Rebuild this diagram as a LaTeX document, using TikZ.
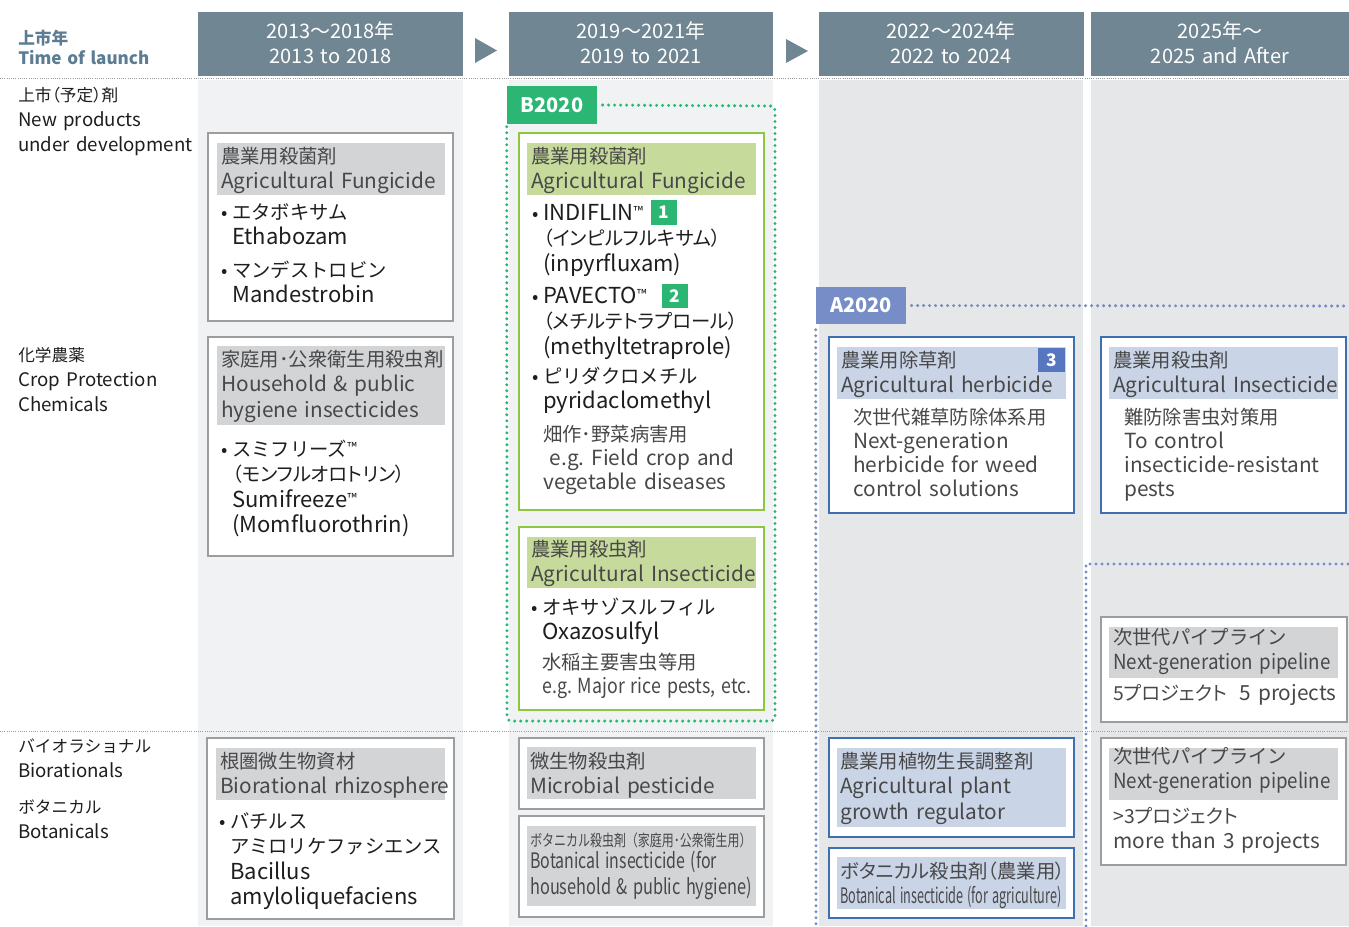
\documentclass[tikz,border=0pt]{standalone}
\usepackage{fontspec}
\usepackage{graphicx}
\setmainfont{Noto Sans CJK JP}
\newfontfamily\jpp{Noto Sans CJK JP}[RawFeature=+palt]
\definecolor{slate}{HTML}{708692}
\definecolor{slatetxt}{HTML}{5B7C93}
\definecolor{bgA}{HTML}{F1F2F4}
\definecolor{bgB}{HTML}{E6E7E9}
\definecolor{gbadge}{HTML}{2BB673}
\definecolor{gline}{HTML}{8DC63F}
\definecolor{gband}{HTML}{C6DA9C}
\definecolor{bbadge}{HTML}{768DC8}
\definecolor{bnum}{HTML}{5677BF}
\definecolor{bline}{HTML}{3E6FB0}
\definecolor{bband}{HTML}{C9D4E7}
\definecolor{nband}{HTML}{D3D4D6}
\definecolor{nline}{HTML}{9C9D9F}
\definecolor{ttl}{HTML}{484848}
\definecolor{itm}{HTML}{1E1E1E}
\newcommand\jt{\fontsize{14.5pt}{19.2pt}\selectfont}
\newcommand\et{\fontsize{15.6pt}{19.2pt}\selectfont}
\newcommand\eb{\fontsize{16.5pt}{19.2pt}\selectfont}
\newcommand\jd{\fontsize{14.5pt}{18pt}\selectfont}
\newcommand\ed{\fontsize{15.6pt}{18pt}\selectfont}
\newcommand\jl{\fontsize{12.5pt}{19pt}\selectfont}
\newcommand\el{\fontsize{14pt}{19pt}\selectfont}
\newcommand\bul{\llap{\fontsize{14pt}{19.2pt}\selectfont•\hspace{3pt}}}
\newcommand\tmk{\raisebox{2.5pt}{\fontsize{10pt}{10pt}\selectfont ™}}
\newcommand\sq[2]{\resizebox{#1}{\height}{#2}}
\begin{document}
\begin{tikzpicture}[x=0.75pt,y=-0.75pt,
  txt/.style={inner sep=0pt,anchor=base west,text width=210pt,align=left,font=\et},
  hd/.style={inner sep=0pt,anchor=base,text width=190pt,align=center,text=white,
    font=\fontsize{15pt}{18.75pt}\selectfont},
  card/.style={draw=nline,line width=0.9pt,fill=white},
  gcard/.style={card,draw=gline},
  bcard/.style={card,draw=bline},
  tag/.style={fill=#1,text=white,font=\bfseries\fontsize{15pt}{15pt}\selectfont,
    minimum width=67.5pt,minimum height=28pt,inner sep=0pt},
  num/.style={fill=#1,text=white,font=\bfseries\fontsize{13pt}{13pt}\selectfont,
    minimum width=20pt,minimum height=18.5pt,inner sep=0pt},
  sep/.style={nline,line width=0.75pt,dash pattern=on 0.75pt off 0.9pt},
  dots/.style={#1,line width=2.5pt,line cap=round,dash pattern=on 0pt off 4.5pt}]
\useasboundingbox (0,0) rectangle (1349,926);
\fill[bgA] (198,80) rectangle (463,926);
\fill[bgA] (509,80) rectangle (773,926);
\fill[bgB] (819,80) rectangle (1083,926);
\fill[bgB] (1091,80) rectangle (1349,926);
\fill[slate] (198,12) rectangle (463,76);
\fill[slate] (509,12) rectangle (773,76);
\fill[slate] (819,12) rectangle (1084,76);
\fill[slate] (1091,12) rectangle (1349,76);
\fill[slate] (475,38) -- (497,50.5) -- (475,63) -- cycle;
\fill[slate] (786,39) -- (808,51) -- (786,63) -- cycle;
\node[hd] (h1) at (330.5,38) {2013〜2018年\\2013 to 2018};
\node[hd] (h2) at (641,38) {2019〜2021年\\2019 to 2021};
\node[hd] (h3) at (951,38) {2022〜2024年\\2022 to 2024};
\node[hd] (h4) at (1220,38) {2025年〜\\2025 and After};
\draw[sep] (0,78) -- (1349,78);
\draw[sep] (0,731) -- (1349,731);
\node[txt,text=slatetxt,font=\bfseries\jl] (ltime) at (18,44) {上市年};
\node[txt,text=slatetxt,font=\bfseries\fontsize{12.8pt}{16pt}\selectfont] (ltime2) at (18,64) {Time of launch};
\node[txt,text=itm,font=\el] (lnew) at (18,101) {\jl{\jpp 上市（予定）剤}\\\el New products\\under development};
\node[txt,text=itm,font=\el] (lcp) at (18,361) {\jl 化学農薬\\\el Crop Protection\\Chemicals};
\node[txt,text=itm,font=\el] (lbio) at (18,752) {\jl バイオラショナル\\\el Biorationals};
\node[txt,text=itm,font=\el] (lbot) at (18,813) {\jl ボタニカル\\\el Botanicals};
\draw[card] (208,133) rectangle (453,321);
\fill[nband] (217,143) rectangle (445,195);
\node[txt,text=ttl] (fa) at (221,163) {\jt 農業用殺菌剤\\\et Agricultural Fungicide};
\node[txt,text=itm] (fa1) at (232,219) {\jt\bul エタボキサム\\\eb Ethabozam};
\node[txt,text=itm] (fa2) at (232,277) {\jt\bul マンデストロビン\\\eb Mandestrobin};
\draw[card] (208,337) rectangle (453,556);
\fill[nband] (217,346) rectangle (445,425);
\node[txt,text=ttl] (hh) at (221,366) {\jt 家庭用･公衆衛生用殺虫剤\\\et Household \& public\\hygiene insecticides};
\node[txt,text=itm] (hh1) at (232,456) {\jt\bul スミフリーズ\tmk\\{\jpp （モンフルオロトリン）}\\\eb Sumifreeze\tmk\\(Momfluorothrin)};
\draw[card] (207,738) rectangle (454,919);
\fill[nband] (216,748) rectangle (445,800);
\node[txt,text=ttl] (br) at (220,768) {\jt 根圏微生物資材\\\et Biorational rhizosphere};
\node[txt,text=itm] (br1) at (230,828) {\jt\bul バチルス\\アミロリケファシエンス\\\eb Bacillus\\amyloliquefaciens};
\node[tag=gbadge] (b2020) at (552,105) {B2020};
\draw[gcard] (519,133) rectangle (764,510);
\fill[gband] (527,143) rectangle (756,195);
\node[txt,text=ttl] (gf) at (531,163) {\jt 農業用殺菌剤\\\et Agricultural Fungicide};
\node[txt,text=itm] (gf1) at (543,220) {\eb\bul INDIFLIN\tmk\\\jt{\jpp （インピルフルキサム）}\\\eb (inpyrfluxam)};
\node[num=gbadge] (n1) at (664,212.5) {1};
\node[txt,text=itm] (gf2) at (543,303) {\eb\bul PAVECTO\tmk\\\jt{\jpp （メチルテトラプロール）}\\\eb (methyltetraprole)};
\node[num=gbadge] (n2) at (675,296) {2};
\node[txt,text=itm] (gf3) at (543,383) {\jt\bul ピリダクロメチル\\\eb pyridaclomethyl};
\node[txt,text=ttl,font=\ed] (gf4) at (543,441) {\jd 畑作･野菜病害用\\\ed\hspace*{5pt}e.g.\ Field crop and\\vegetable diseases};
\draw[gcard] (519,527) rectangle (764,710);
\fill[gband] (527,537) rectangle (756,588);
\node[txt,text=ttl] (gi) at (531,556) {\jt 農業用殺虫剤\\\et Agricultural Insecticide};
\node[txt,text=itm] (gi1) at (542,614) {\jt\bul オキサゾスルフィル\\\eb Oxazosulfyl};
\node[txt,text=ttl,font=\ed] (gi2) at (542,669) {\jd 水稲主要害虫等用\\\ed\sq{157pt}{e.g.\ Major rice pests, etc.}};
\coordinate (gNE) at (775,106);
\coordinate (gSE) at (775,721);
\coordinate (gSW) at (507,721);
\draw[dots=gbadge,rounded corners=3pt] ([xshift=4pt]b2020.east) -- (gNE) -- (gSE) -- (gSW) -- (b2020.south west);
\draw[card] (519,738) rectangle (764,809);
\fill[nband] (527,747) rectangle (756,799);
\node[txt,text=ttl] (mp) at (530,768) {\jt 微生物殺虫剤\\\et Microbial pesticide};
\draw[card] (519,816) rectangle (764,917);
\fill[nband] (527,826) rectangle (756,906);
\node[txt,text=ttl,font=\fontsize{12pt}{14pt}\selectfont] (bh) at (530,846) {\sq{166pt}{ボタニカル殺虫剤（家庭用･公衆衛生用）}};
\node[txt,text=ttl,font=\fontsize{16pt}{20pt}\selectfont] (bh2) at (530,868) {\sq{140pt}{Botanical insecticide (for}\\\sq{166pt}{household \& public hygiene)}};
\node[tag=bbadge] (a2020) at (861,305.5) {A2020};
\coordinate (aE) at (1349,306);
\coordinate (aS) at (816,926);
\draw[dots=bbadge] ([xshift=4pt]a2020.east) -- (aE);
\draw[dots=bbadge] ([yshift=-4pt]a2020.south west) -- (aS);
\draw[bcard] (829,337) rectangle (1074,513);
\fill[bband] (837,347) rectangle (1066,399);
\node[num=bnum] (n3) at (1051.5,360) {3};
\node[txt,text=ttl] (hb) at (841,367) {\jt 農業用除草剤\\\et Agricultural herbicide};
\node[txt,text=ttl,font=\ed] (hb1) at (853,424) {\jd 次世代雑草防除体系用\\\ed Next-generation\\herbicide for weed\\control solutions};
\draw[bcard] (829,738) rectangle (1074,837);
\fill[bband] (837,748) rectangle (1066,827);
\node[txt,text=ttl] (pg) at (840,768) {\jt 農業用植物生長調整剤\\\et Agricultural plant\\growth regulator};
\draw[bcard] (829,848) rectangle (1074,918);
\fill[bband] (837,857) rectangle (1066,909);
\node[txt,text=ttl] (ba) at (840,878) {\jt\jpp ボタニカル殺虫剤（農業用）};
\node[txt,text=ttl,font=\fontsize{16pt}{20pt}\selectfont] (ba2) at (840,903) {\sq{166pt}{Botanical insecticide (for agriculture)}};
\draw[bcard] (1101,337) rectangle (1346,513);
\fill[bband] (1109,347) rectangle (1338,399);
\node[txt,text=ttl] (ki) at (1113,367) {\jt 農業用殺虫剤\\\et Agricultural Insecticide};
\node[txt,text=ttl,font=\ed] (ki1) at (1124,424) {\jd 難防除害虫対策用\\\ed To control\\insecticide-resistant\\pests};
\coordinate (pS) at (1086,926);
\coordinate (pC) at (1086,564);
\coordinate (pE) at (1349,564);
\draw[dots=bbadge] (pS) -- (pC) -- (pE);
\draw[card] (1101,617) rectangle (1347,722);
\fill[nband] (1109,627) rectangle (1338,678);
\node[txt,text=ttl] (np) at (1113,644) {\jt 次世代パイプライン\\\et\sq{163pt}{Next-generation pipeline}};
\node[txt,text=ttl] (np1) at (1113,700) {\jt{\jpp 5プロジェクト}\hspace{9pt}\et 5 projects};
\draw[card] (1101,738) rectangle (1346,865);
\fill[nband] (1109,748) rectangle (1338,800);
\node[txt,text=ttl] (nq) at (1113,763) {\jt 次世代パイプライン\\\et\sq{163pt}{Next-generation pipeline}};
\node[txt,text=ttl] (nq1) at (1113,823) {\jt{\jpp >3プロジェクト}\\\et more than 3 projects};
\end{tikzpicture}
\end{document}
